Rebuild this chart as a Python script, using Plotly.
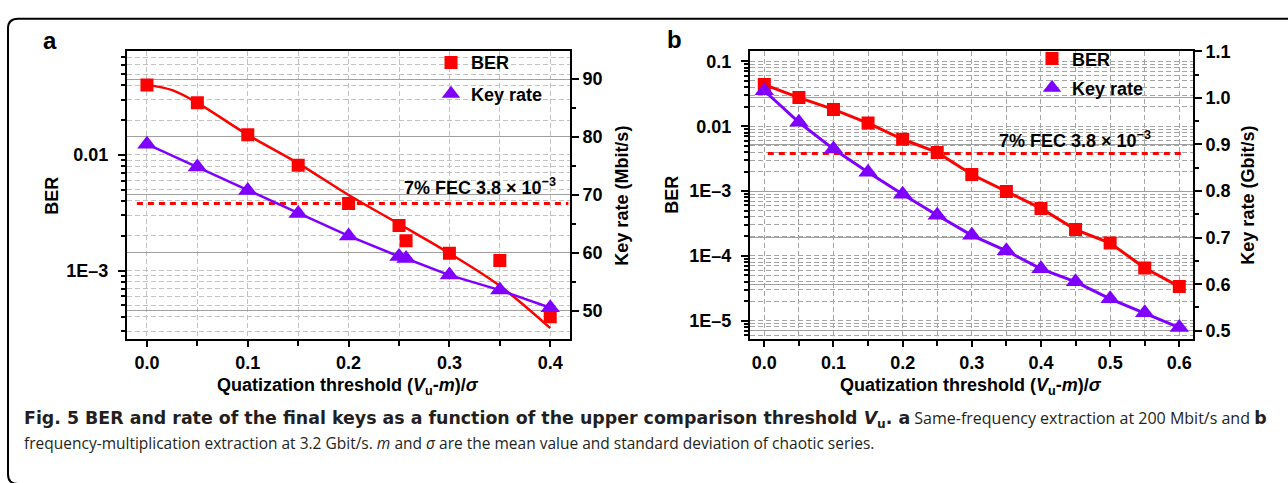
import plotly.graph_objects as go

# ---------------- data ----------------
# panel a
A_X = [0.0, 0.05, 0.10, 0.15, 0.20, 0.25, 0.257, 0.30, 0.35, 0.40]
A_BER = [0.0403, 0.0282, 0.0149, 0.00813, 0.0038, 0.00245, 0.00181, 0.00141, 0.00122, 0.000398]
A_RATE = [78.76, 74.8, 70.76, 66.8, 62.9, 59.35, 59.0, 56.14, 53.55, 50.5]
A_FIT_X = [0.0, 0.025, 0.05, 0.10, 0.15, 0.20, 0.25, 0.30, 0.35, 0.40]
A_FIT_BER = [0.0403, 0.0363, 0.0282, 0.0149, 0.00845, 0.0045, 0.00253, 0.00141, 0.000738, 0.000318]
A_FEC_X = [-0.01, 0.418]

# panel b
B_X = [0.0, 0.05, 0.10, 0.15, 0.20, 0.25, 0.30, 0.35, 0.40, 0.45, 0.50, 0.55, 0.60]
B_BER = [0.044, 0.0277, 0.0182, 0.0112, 0.0063, 0.00395, 0.0018, 0.000987, 0.00054,
         0.000255, 0.000158, 6.5e-5, 3.36e-5]
B_RATE = [1.0153, 0.9476, 0.890, 0.8405, 0.793, 0.748, 0.705, 0.6716, 0.633, 0.605,
          0.5685, 0.5385, 0.507]
B_FEC_X = [0.005, 0.605]

FEC = 3.8e-3

A_XTICKS = [0.0, 0.1, 0.2, 0.3, 0.4]
B_XTICKS = [0.0, 0.1, 0.2, 0.3, 0.4, 0.5, 0.6]
A_BER_TICKS = [0.01, 0.001]
A_BER_LABELS = ["0.01", "1E–3"]
B_BER_TICKS = [0.1, 0.01, 0.001, 1e-4, 1e-5]
B_BER_LABELS = ["0.1", "0.01", "1E–3", "1E–4", "1E–5"]

# ---------------- style ----------------
W, H = 1288, 483
RED = "#FF0000"
PURPLE = "#7F00FF"
FONT = "Liberation Sans"
SGRID = "#a0a0a0"


def px(x):
    return x / W


def py(y):
    return 1 - y / H


def minor_log(lo, hi):
    return [k * 10.0 ** e for e in range(lo, hi) for k in range(2, 10)]


fig = go.Figure()

# ---- panel a ----
fig.add_trace(go.Scatter(x=A_FIT_X, y=A_FIT_BER, mode="lines", line=dict(color=RED, width=2.5, shape="spline"),
                         xaxis="x", yaxis="y", showlegend=False, hoverinfo="skip"))
fig.add_trace(go.Scatter(x=A_FEC_X, y=[FEC, FEC], mode="lines", line=dict(color=RED, width=3, dash="6px,5px"),
                         xaxis="x", yaxis="y", showlegend=False))
fig.add_trace(go.Scatter(x=A_X, y=A_BER, mode="markers", marker=dict(color=RED, symbol="square", size=13),
                         xaxis="x", yaxis="y", showlegend=False))
fig.add_trace(go.Scatter(x=A_X, y=A_RATE, mode="lines+markers", line=dict(color=PURPLE, width=2.5),
                         marker=dict(color=PURPLE, symbol="triangle-up", size=17),
                         xaxis="x", yaxis="y2", showlegend=False))

# ---- panel b ----
fig.add_trace(go.Scatter(x=B_FEC_X, y=[FEC, FEC], mode="lines", line=dict(color=RED, width=3, dash="6px,5px"),
                         xaxis="x2", yaxis="y3", showlegend=False))
fig.add_trace(go.Scatter(x=B_X, y=B_BER, mode="lines+markers", line=dict(color=RED, width=3),
                         marker=dict(color=RED, symbol="square", size=13),
                         xaxis="x2", yaxis="y3", showlegend=False))
fig.add_trace(go.Scatter(x=B_X, y=B_RATE, mode="lines+markers", line=dict(color=PURPLE, width=3),
                         marker=dict(color=PURPLE, symbol="triangle-up", size=17),
                         xaxis="x2", yaxis="y4", showlegend=False))

# ---- legend entries ----
for leg, xa, ya in (("legend", "x", "y"), ("legend2", "x2", "y3")):
    fig.add_trace(go.Scatter(x=[None], y=[None], mode="markers", name="BER",
                             marker=dict(color=RED, symbol="square", size=13),
                             xaxis=xa, yaxis=ya, legend=leg, legendgroup=leg + "a"))
    fig.add_trace(go.Scatter(x=[None], y=[None], mode="markers", name="Key rate",
                             marker=dict(color=PURPLE, symbol="triangle-up", size=16),
                             xaxis=xa, yaxis=ya, legend=leg, legendgroup=leg + "b"))

tickfont = dict(family=FONT, size=18, color="black", weight="bold")
axis_common = dict(showline=True, linecolor="black", linewidth=2, ticks="outside", tickwidth=2,
                   tickcolor="black", tickfont=tickfont, zeroline=False)


def xaxis(dom, rng, ticks, anchor, grid):
    return dict(domain=dom, range=rng, tickmode="array", tickvals=ticks,
                ticktext=["%.1f" % t for t in ticks], ticklen=6, mirror=True, ticklabelstandoff=0,
                showgrid=True, gridcolor=grid, griddash="5px,3px", gridwidth=1,
                minor=dict(dtick=0.05, tick0=0, ticks="outside", ticklen=5, tickwidth=2, tickcolor="black",
                           showgrid=True, gridcolor=grid, griddash="5px,3px", gridwidth=1),
                anchor=anchor, **axis_common)


def ylog(rng, ticks, labels, lo, hi, anchor, grid):
    return dict(domain=[py(338), py(43)], type="log", range=rng, tickmode="array",
                tickvals=ticks, ticktext=labels, ticklen=7, ticklabelstandoff=6,
                showgrid=True, gridcolor=grid, griddash="5px,3px", gridwidth=1,
                minor=dict(tickmode="array", tickvals=minor_log(lo, hi), ticks="outside", ticklen=4,
                           tickwidth=2, tickcolor="black", showgrid=True, gridcolor=grid,
                           griddash="5px,3px", gridwidth=1),
                anchor=anchor, **axis_common)


def yright(rng, dtick, fmt, overlay, anchor):
    return dict(range=rng, side="right", overlaying=overlay, anchor=anchor, dtick=dtick, tick0=0,
                tickformat=fmt, ticklen=7, showgrid=True, gridcolor=SGRID, gridwidth=1.2,
                minor=dict(dtick=dtick / 2, ticks="outside", ticklen=4, tickwidth=2, tickcolor="black",
                           showgrid=False),
                **axis_common)


AX_DOM = [px(127), px(570)]
BX_DOM = [px(750), px(1193)]

legend_font = dict(family=FONT, size=18, color="black", weight="bold")
legend_common = dict(bgcolor="rgba(0,0,0,0)", font=legend_font, xanchor="left", yanchor="top", itemwidth=30)

annos = []


def txt(x, y, text, size=18, angle=0, xanchor="center", family=FONT, weight="bold", color="black"):
    annos.append(dict(x=px(x), y=py(y), xref="paper", yref="paper", text=text, showarrow=False,
                      textangle=angle, xanchor=xanchor, yanchor="middle",
                      font=dict(family=family, size=size, color=color, weight=weight)))


txt(50, 32, "a", size=24)
txt(674, 31, "b", size=24)
txt(52, 191, "BER", angle=-90)
txt(622, 191, "Key rate (Mbit/s)", angle=-90)
txt(672, 190, "BER", angle=-90)
txt(1248, 191, "Key rate (Gbit/s)", angle=-90)
xt = "Quatization threshold (<i>V</i><sub>u</sub>-<i>m</i>)/<i>σ</i>"
txt(348, 386, xt, size=18)
txt(971, 386, xt, size=18)
txt(558, 182, "7% FEC 3.8 × 10<sup>−3</sup>", size=18, xanchor="right")
txt(1153, 134, "7% FEC 3.8 × 10<sup>−3</sup>", size=18, xanchor="right")

CAP = "Open Sans"
BOLD = '<b><span style="font-family:DejaVu Sans;font-size:17.4px">%s</span></b>'
txt(22, 420, BOLD % ("Fig. 5 BER and rate of the final keys as a function of the upper comparison threshold "
                     "<i>V</i><sub>u</sub>. a") +
    " Same-frequency extraction at 200 Mbit/s and " + BOLD % "b",
    size=16, xanchor="left", family=CAP, weight="normal", color="#231f20")
txt(22, 444, "frequency-multiplication extraction at 3.2 Gbit/s. <i>m</i> and <i>σ</i> are the mean value "
             "and standard deviation of chaotic series.",
    size=15.5, xanchor="left", family=CAP, weight="normal", color="#231f20")

# outer frame with rounded left corners
r = 10
path = ("M {a},{b} L {c},{b} Q {d},{b} {d},{e} L {d},{f} Q {d},{g} {c},{g} L {a},{g}").format(
    a=px(1300), b=py(486), c=px(8 + r), d=px(8), e=py(486 - r), f=py(10 + r), g=py(10))

fig.update_layout(
    width=W, height=H, margin=dict(l=0, r=0, t=0, b=0),
    paper_bgcolor="white", plot_bgcolor="white",
    xaxis=xaxis(AX_DOM, [-0.0198, 0.4196], A_XTICKS, "y", "#c2c2c2"),
    yaxis=ylog([-3.594, -1.102], A_BER_TICKS, A_BER_LABELS, -4, -1, "x", "#c2c2c2"),
    yaxis2=yright([45.05, 94.85], 10, "d", "y", "x"),
    xaxis2=xaxis(BX_DOM, [-0.0207, 0.6198], B_XTICKS, "y3", "#a4a4a4"),
    yaxis3=ylog([-5.287, -0.839], B_BER_TICKS, B_BER_LABELS, -6, 0, "x2", "#a4a4a4"),
    yaxis4=yright([0.4817, 1.1006], 0.1, ".1f", "y3", "x2"),
    legend=dict(x=px(431), y=py(36), tracegroupgap=5, **legend_common),
    legend2=dict(x=px(1032), y=py(32), tracegroupgap=3, **legend_common),
    annotations=annos,
    shapes=[dict(type="path", path=path, xref="paper", yref="paper",
                 line=dict(color="black", width=2))],
)

fig.write_html("out.html", config={"displayModeBar": False},
               post_script="document.body.style.margin='0';document.body.style.overflow='hidden';")
